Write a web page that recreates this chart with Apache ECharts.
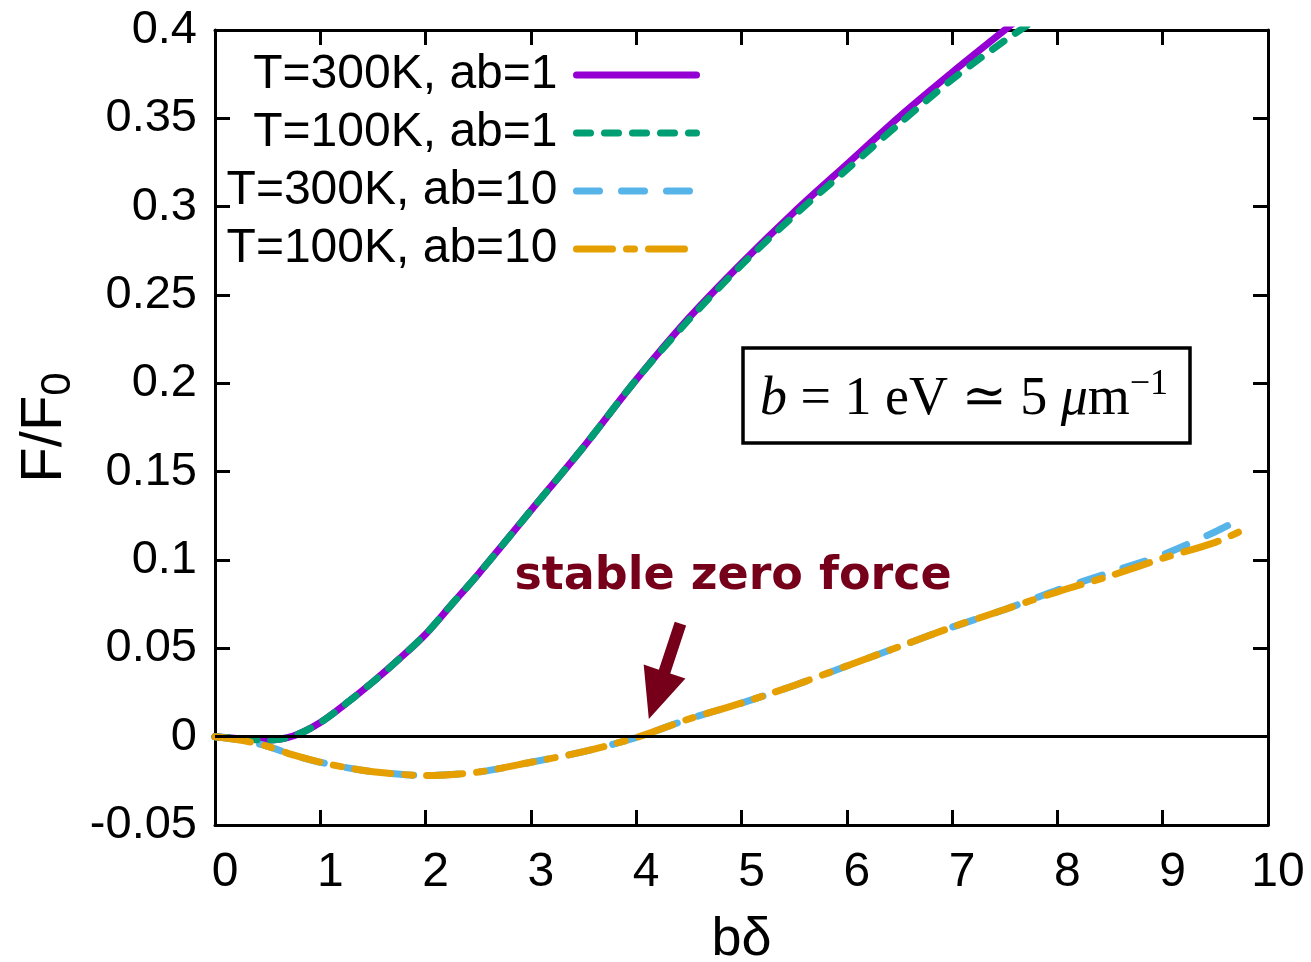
<!DOCTYPE html>
<html><head><meta charset="utf-8">
<script src="https://cdn.jsdelivr.net/npm/echarts@6/dist/echarts.min.js"></script>
<style>html,body{margin:0;padding:0;background:#fff}#c{width:1311px;height:962px}</style>
</head><body><div id="c"></div>
<script>
// ---- data ----
const xUpper = [0,0.25,0.5,0.75,1,1.25,1.5,1.75,2,2.25,2.5,3,3.5,4,4.5,5,5.5,6,6.5,7,7.5,8];
const t300ab1 = [0,-0.0012,-0.002,0.0005,0.008,0.019,0.031,0.044,0.058,0.075,0.092,0.128,0.164,0.202,0.237,0.268,0.297,0.324,0.351,0.376,0.400,0.424];
const t100ab1 = [0,-0.0012,-0.002,0.0005,0.008,0.019,0.031,0.044,0.058,0.075,0.092,0.128,0.164,0.202,0.236,0.267,0.295,0.321,0.347,0.372,0.394,0.414];
const xLowerBlue = [0,0.25,0.5,0.75,1,1.25,1.5,2,2.5,3,3.5,4,4.5,5,5.5,6,6.5,7,7.5,8,8.5,9,9.5,9.7];
const t300ab10 = [0,-0.002,-0.0055,-0.0105,-0.0145,-0.0175,-0.0198,-0.022,-0.020,-0.0145,-0.0085,-0.0005,0.010,0.019,0.029,0.040,0.051,0.062,0.072,0.083,0.093,0.103,0.116,0.122];
const xLowerOrange = [0,0.25,0.5,0.75,1,1.25,1.5,2,2.5,3,3.5,4,4.5,5,5.5,6,6.5,7,7.5,8,8.5,9,9.5,9.8];
const t100ab10 = [0,-0.002,-0.0055,-0.0105,-0.0145,-0.0175,-0.0198,-0.022,-0.020,-0.0145,-0.0085,-0.0005,0.010,0.019,0.029,0.040,0.051,0.062,0.072,0.082,0.091,0.101,0.110,0.118];
const seriesNames = ['T=300K, ab=1','T=100K, ab=1','T=300K, ab=10','T=100K, ab=10'];
const xTickMin = 0, xTickMax = 10, xTickStep = 1;
const yTickMin = -0.05, yTickMax = 0.4, yTickStep = 0.05;
const annotation = 'stable zero force';
const arrowTail = [4.42, 0.064], arrowTip = [4.12, 0.010], annotationAt = [4.92, 0.0905];

const pairs = (xs, ys) => xs.map((x, i) => [x, ys[i]]);
const FONT = '"Liberation Sans", Arial, sans-serif';
const chart = echarts.init(document.getElementById('c'), null, {renderer: 'canvas'});

const axisCommon = {
  axisLine: {show: true, onZero: false, lineStyle: {color: '#000', width: 3}},
  axisTick: {show: true, inside: true, length: 15, lineStyle: {color: '#000', width: 3}},
  splitLine: {show: false}
};
const lw = 7;
const option = {
  animation: false,
  backgroundColor: '#fff',
  grid: {left: 215, right: 43, top: 30, bottom: 137, containLabel: false, outerBoundsMode: 'none'},
  legend: {
    orient: 'vertical', align: 'right', right: 611, top: 51, padding: 0,
    itemWidth: 120, itemHeight: 20, itemGap: 10,
    textStyle: {fontFamily: FONT, fontSize: 48, color: '#000', padding: [0, 14, 0, 0], lineHeight: 48},
    lineStyle: {width: lw, cap: 'round', opacity: 1},
    itemStyle: {color: 'rgba(0,0,0,0)', borderWidth: 0, opacity: 0},
    data: seriesNames
  },
  xAxis: [
    Object.assign({type: 'value', min: xTickMin, max: xTickMax, interval: xTickStep, position: 'bottom',
      name: 'bδ', nameLocation: 'middle', nameGap: 88,
      nameTextStyle: {fontFamily: FONT, fontSize: 54, color: '#000'},
      axisLabel: {fontFamily: FONT, fontSize: 48, color: '#000', margin: 24, padding: [0, 0, 0, 20]}}, axisCommon),
    Object.assign({type: 'value', min: xTickMin, max: xTickMax, interval: xTickStep, position: 'top',
      axisLabel: {show: false}}, axisCommon)
  ],
  yAxis: [
    Object.assign({type: 'value', min: yTickMin, max: yTickMax, interval: yTickStep, position: 'left',
      name: 'F/F{s|0}', nameLocation: 'middle', nameGap: 128, nameRotate: 90,
      nameTextStyle: {fontFamily: FONT, fontSize: 58, color: '#000',
        rich: {s: {fontFamily: FONT, fontSize: 42, color: '#000', padding: [26, 0, 0, 0]}}},
      axisLabel: {fontFamily: FONT, fontSize: 47, color: '#000', margin: 18}}, axisCommon),
    Object.assign({type: 'value', min: yTickMin, max: yTickMax, interval: yTickStep, position: 'right',
      axisLabel: {show: false}}, axisCommon)
  ],
  series: [
    {name: seriesNames[0], type: 'line', data: pairs(xUpper, t300ab1), showSymbol: false, symbol: 'none', smooth: 0.3, clip: true,
     lineStyle: {color: '#9400d3', width: lw, cap: 'round'}, itemStyle: {color: '#9400d3'}, z: 3,
     markLine: {silent: true, symbol: 'none', label: {show: false},
       lineStyle: {color: '#000', width: 3, type: 'solid'}, data: [{yAxis: 0}]}},
    {name: seriesNames[1], type: 'line', data: pairs(xUpper, t100ab1), showSymbol: false, symbol: 'none', smooth: 0.3, clip: true,
     lineStyle: {color: '#009e73', width: lw, type: [14, 14], cap: 'round'}, itemStyle: {color: '#009e73'}, z: 4},
    {name: seriesNames[2], type: 'line', data: pairs(xLowerBlue, t300ab10), showSymbol: false, symbol: 'none', smooth: 0.3, clip: true,
     lineStyle: {color: '#56b4e9', width: lw, type: [23, 22], cap: 'round'}, itemStyle: {color: '#56b4e9'}, z: 3},
    {name: seriesNames[3], type: 'line', data: pairs(xLowerOrange, t100ab10), showSymbol: false, symbol: 'none', smooth: 0.3, clip: true,
     lineStyle: {color: '#e69f00', width: lw, type: [36, 14, 8, 14], cap: 'round'}, itemStyle: {color: '#e69f00'}, z: 4}
  ]
};
chart.setOption(option);

// annotations positioned through the chart's own scales
const tail = chart.convertToPixel({gridIndex: 0}, arrowTail);
const tip = chart.convertToPixel({gridIndex: 0}, arrowTip);
const txt = chart.convertToPixel({gridIndex: 0}, annotationAt);
const dx = tip[0] - tail[0], dy = tip[1] - tail[1];
const L = Math.hypot(dx, dy), ux = dx / L, uy = dy / L, nx = -uy, ny = ux;
const headLen = 50, headHalf = 22, shaftHalf = 6;
const bx = tip[0] - ux * headLen, by = tip[1] - uy * headLen;
const arrowPts = [
  [tail[0] + nx * shaftHalf, tail[1] + ny * shaftHalf],
  [bx + nx * shaftHalf, by + ny * shaftHalf],
  [bx + nx * headHalf, by + ny * headHalf],
  [tip[0], tip[1]],
  [bx - nx * headHalf, by - ny * headHalf],
  [bx - nx * shaftHalf, by - ny * shaftHalf],
  [tail[0] - nx * shaftHalf, tail[1] - ny * shaftHalf]
];
const SERIF = '"Liberation Serif", "DejaVu Serif", serif';
chart.setOption({
  graphic: [
    {type: 'polygon', shape: {points: arrowPts}, style: {fill: '#76001a'}, z: 10},
    {type: 'text', x: txt[0], y: txt[1], style: {text: annotation, fontFamily: '"DejaVu Sans", sans-serif',
      fontWeight: 'bold', fontSize: 46, fill: '#76001a', align: 'center', verticalAlign: 'middle'}, z: 10},
    {type: 'rect', shape: {x: 743, y: 348, width: 447, height: 95}, style: {fill: '#fff', stroke: '#000', lineWidth: 3.5}, z: 10},
    {type: 'text', x: 964, y: 400, z: 11, style: {
      text: '{i|b} = 1 eV ≃ 5 {i|μ}m{sup|−1}',
      fontFamily: SERIF, fontSize: 54, fill: '#000', align: 'center', verticalAlign: 'middle',
      rich: {
        i: {fontFamily: SERIF, fontSize: 54, fontStyle: 'italic', fill: '#000'},
        sup: {fontFamily: SERIF, fontSize: 36, fill: '#000', padding: [0, 0, 30, 0]}
      }}}
  ]
});
</script></body></html>
